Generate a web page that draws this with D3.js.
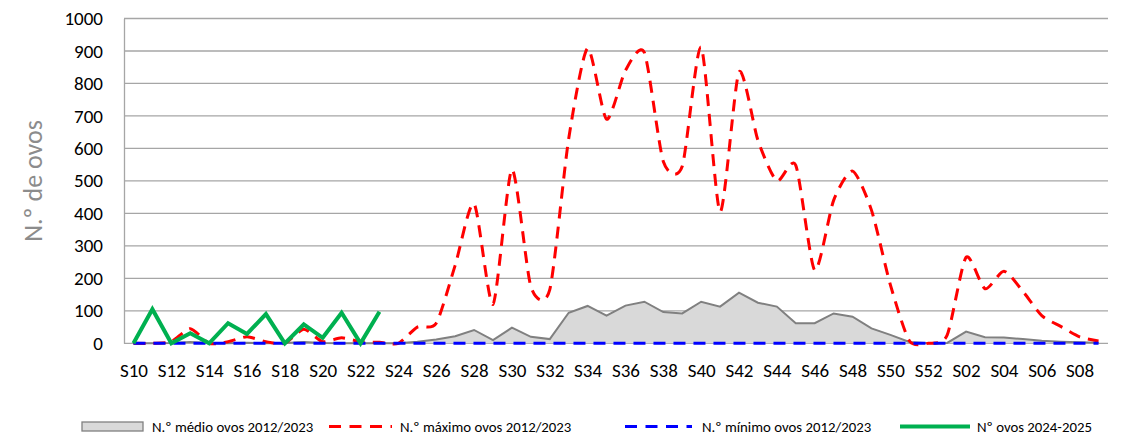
<!DOCTYPE html>
<html>
<head>
<meta charset="utf-8">
<script src="https://cdn.jsdelivr.net/npm/d3@7"></script>
<style>
  body { margin: 0; background: #fff; }
  svg { display: block; font-family: Carlito, Calibri, Lato, sans-serif; }
</style>
</head>
<body>
<svg id="chart" width="1122" height="438"></svg>
<script>
// weeks S10..S52 then S01..S09
var weeks = [];
for (var w = 10; w <= 52; w++) weeks.push("S" + w);
for (var w2 = 1; w2 <= 9; w2++) weeks.push("S0" + w2);

var meanEggs = [0, 0, 1, 4, 1, 0, 2, 0, 1, 4, 1, 0, 0, 0, 0, 5, 12, 22, 41, 10,
  48, 20, 13, 94, 115, 85, 116, 128, 96, 92, 128, 113, 156, 125, 113, 62, 62, 92,
  82, 46, 26, 4, 0, 1, 36, 19, 18, 13, 8, 5, 3, 2];
var maxEggs = [0, 0, 5, 45, 0, 5, 20, 5, 0, 43, 5, 17, 5, 3, 0, 50, 62, 240, 430, 120,
  535, 175, 165, 630, 908, 690, 840, 895, 560, 545, 912, 405, 835, 625, 500, 548,
  225, 440, 530, 410, 180, 8, 0, 25, 265, 168, 222, 160, 85, 52, 20, 7];
var minEggs = weeks.map(function () { return 0; });
var eggs2024 = [0, 105, 0, 31, 0, 62, 29, 90, 0, 58, 17, 94, 0, 97];

var yTicks = [0, 100, 200, 300, 400, 500, 600, 700, 800, 900, 1000];

var svg = d3.select("#chart");
var plotLeft = 124, plotRight = 1108, plotTop = 18.5, plotBottom = 343.3;

var x = d3.scalePoint().domain(weeks).range([plotLeft, plotRight]).padding(0.5);
var y = d3.scaleLinear().domain([0, 1000]).range([plotBottom, plotTop]);

// gridlines
svg.append("g").selectAll("line").data(yTicks).enter().append("line")
  .attr("x1", plotLeft).attr("x2", plotRight)
  .attr("y1", function (d) { return y(d); }).attr("y2", function (d) { return y(d); })
  .attr("stroke", "#a6a6a6").attr("stroke-width", 1.3);

// y axis
var yAxis = svg.append("g").attr("transform", "translate(" + plotLeft + ",0)")
  .call(d3.axisLeft(y).tickValues(yTicks).tickFormat(d3.format("d")).tickSize(0).tickPadding(21));
yAxis.select(".domain").attr("stroke", "#a6a6a6").attr("stroke-width", 1.3);
yAxis.selectAll("text").attr("font-size", "19px").attr("fill", "#000")
  .style("font-family", "Carlito, Calibri, Lato, sans-serif");

// x axis
var xAxis = svg.append("g").attr("transform", "translate(0," + plotBottom + ")")
  .call(d3.axisBottom(x).tickValues(weeks.filter(function (d, i) { return i % 2 === 0; }))
    .tickSize(0).tickPadding(20));
xAxis.select(".domain").remove();
xAxis.selectAll("text").attr("font-size", "19px").attr("fill", "#000")
  .style("font-family", "Carlito, Calibri, Lato, sans-serif");

// y title
svg.append("text")
  .attr("transform", "translate(42," + ((plotTop + plotBottom) / 2) + ") rotate(-90)")
  .attr("text-anchor", "middle")
  .attr("font-size", "26px").attr("fill", "#8c8c8c")
  .text("N.º de ovos");

// excel-like smoothing
var smooth = d3.curveCardinal.tension(0.3);

// mean area
var area = d3.area()
  .x(function (d, i) { return x(weeks[i]); })
  .y0(y(0)).y1(function (d) { return y(d); });
svg.append("path").datum(meanEggs)
  .attr("d", area).attr("fill", "#d9d9d9");
svg.append("path").datum(meanEggs)
  .attr("d", d3.line().x(function (d, i) { return x(weeks[i]); }).y(function (d) { return y(d); }))
  .attr("fill", "none").attr("stroke", "#808080").attr("stroke-width", 2);

function lineFor(curve) {
  return d3.line().curve(curve)
    .x(function (d, i) { return x(weeks[i]); })
    .y(function (d) { return y(d); });
}

svg.append("path").datum(maxEggs)
  .attr("d", lineFor(smooth))
  .attr("fill", "none").attr("stroke", "#ff0000").attr("stroke-width", 3)
  .attr("stroke-dasharray", "12,8");

svg.append("path").datum(minEggs)
  .attr("d", lineFor(d3.curveLinear))
  .attr("fill", "none").attr("stroke", "#0000ff").attr("stroke-width", 3)
  .attr("stroke-dasharray", "12,8");

svg.append("path").datum(eggs2024)
  .attr("d", lineFor(d3.curveLinear))
  .attr("fill", "none").attr("stroke", "#00b050").attr("stroke-width", 4)
  .attr("stroke-linejoin", "miter");

// legend
var legendItems = [
  { label: "N.º médio ovos 2012/2023", type: "area", x: 82, w: 61, tx: 152 },
  { label: "N.º máximo ovos 2012/2023", type: "dash", color: "#ff0000", x: 329, w: 63, tx: 400 },
  { label: "N.º mínimo ovos 2012/2023", type: "dash", color: "#0000ff", x: 625, w: 67, tx: 702 },
  { label: "Nº ovos 2024-2025", type: "solid", color: "#00b050", x: 900, w: 70, tx: 977 }
];
var ly = 426.5;
var lg = svg.append("g");
legendItems.forEach(function (it) {
  if (it.type === "area") {
    lg.append("rect").attr("x", it.x).attr("y", ly - 4.5).attr("width", it.w).attr("height", 9)
      .attr("fill", "#d9d9d9").attr("stroke", "#808080").attr("stroke-width", 1.3);
  } else {
    lg.append("line").attr("x1", it.x).attr("x2", it.x + it.w).attr("y1", ly).attr("y2", ly)
      .attr("stroke", it.color).attr("stroke-width", it.type === "solid" ? 4 : 3)
      .attr("stroke-dasharray", it.type === "dash" ? "12,8.5" : null);
  }
  lg.append("text").attr("x", it.tx).attr("y", ly).attr("dy", "0.35em")
    .attr("font-size", "14.8px").attr("fill", "#000").text(it.label);
});
</script>
</body>
</html>
